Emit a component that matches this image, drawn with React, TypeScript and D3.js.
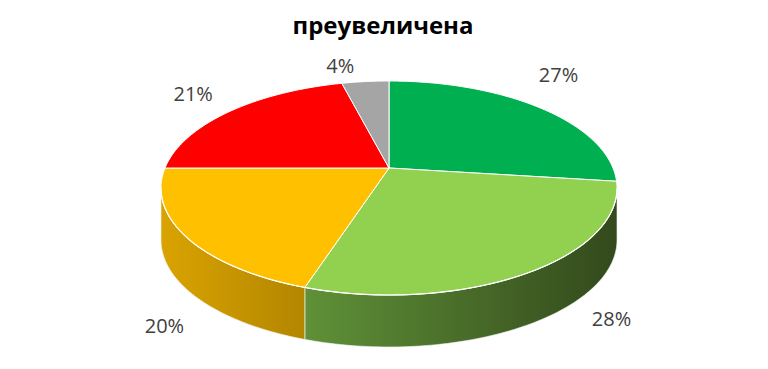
import React from "react";
import * as d3 from "d3";

const titleLine = "преувеличена";
const sliceValues = [27, 28, 20, 21, 4];
const sliceLabels = ["27%", "28%", "20%", "21%", "4%"];
const topColors = ["#00B050", "#92D050", "#FFC000", "#FF0000", "#A5A5A5"];
const sideColorsLight = ["#007A38", "#5F9137", "#D9A300", "#B00000", "#808080"];
const sideColorsDark = ["#005A28", "#33491C", "#B38600", "#800000", "#606060"];

const W = 768;
const H = 369;
// perspective projection of the pie's disk
const CX = 389;
const VY = 168;
const PA = 71.86;
const PC = -0.1869;
const PD = 224;
const THICK = 52;
const labelNudge: [number, number][] = [
  [20, -33],
  [80, -5],
  [-21, 37],
  [-37, -18],
  [-25, -16],
];

function proj(theta: number, r = 1, drop = 0): [number, number] {
  const u = r * Math.sin(theta);
  const v = -r * Math.cos(theta);
  const w = 1 + PC * v;
  return [CX + (PD * u) / w, (PA * v + VY) / w + drop];
}

function rimPoints(a: number, b: number, drop = 0, n = 80): [number, number][] {
  const pts: [number, number][] = [];
  const steps = Math.max(2, Math.ceil((Math.abs(b - a) / (2 * Math.PI)) * n * 4));
  for (let i = 0; i <= steps; i++) {
    pts.push(proj(a + ((b - a) * i) / steps, 1, drop));
  }
  return pts;
}

const toPath = (pts: [number, number][], close = true) =>
  "M" + pts.map((p) => p[0].toFixed(2) + "," + p[1].toFixed(2)).join("L") + (close ? "Z" : "");

export default function App() {
  const pie = d3
    .pie<number>()
    .sort(null)
    .startAngle(0)
    .endAngle(2 * Math.PI)
    .value((d) => d);
  const arcs = pie(sliceValues);

  const thR = Math.acos(PC);
  const thL = 2 * Math.PI - thR;

  const sides = arcs
    .map((a, i) => {
      const s = Math.max(a.startAngle, thR);
      const e = Math.min(a.endAngle, thL);
      if (e <= s) return null;
      const top = rimPoints(s, e, 0);
      const bot = rimPoints(e, s, THICK);
      const xs = top.map((p) => p[0]);
      return { i, d: toPath([...top, ...bot]), x0: d3.min(xs)!, x1: d3.max(xs)! };
    })
    .filter((x) => x !== null) as { i: number; d: string; x0: number; x1: number }[];

  const tops = arcs.map((a, i) => {
    const pts: [number, number][] = [[CX, VY], ...rimPoints(a.startAngle, a.endAngle, 0)];
    return { i, d: toPath(pts) };
  });

  const frontRim = toPath(rimPoints(thR, thL, 0), false);

  const labels = arcs.map((a, i) => {
    const mid = (a.startAngle + a.endAngle) / 2;
    const front = -Math.cos(mid) > 0;
    const [bx, by] = proj(mid, 1, front ? THICK : 0);
    return { x: bx + labelNudge[i][0], y: by + labelNudge[i][1], t: sliceLabels[i] };
  });

  return (
    <svg
      width={W}
      height={H}
      style={{ position: "absolute", left: 0, top: 0, display: "block", background: "#fff" }}
    >
      <defs>
        {sides.map((s) => (
          <linearGradient
            key={s.i}
            id={"sg" + s.i}
            gradientUnits="userSpaceOnUse"
            x1={s.x0}
            x2={s.x1}
            y1={0}
            y2={0}
          >
            <stop offset="0" stopColor={sideColorsLight[s.i]} />
            <stop offset="1" stopColor={sideColorsDark[s.i]} />
          </linearGradient>
        ))}
      </defs>
      <rect x={0} y={0} width={W} height={H} fill="#fff" />
      <text
        x={383}
        y={34}
        textAnchor="middle"
        fontFamily="'Open Sans', 'Noto Sans', sans-serif"
        fontWeight={700}
        fontSize={24}
        fill="#000"
      >
        {titleLine}
      </text>
      {sides.map((s) => (
        <path key={s.i} d={s.d} fill={`url(#sg${s.i})`} stroke="#f4f4f4" strokeWidth={0.8} strokeOpacity={0.8} />
      ))}
      {tops.map((t) => (
        <path key={t.i} d={t.d} fill={topColors[t.i]} stroke="#ffffff" strokeWidth={1} strokeLinejoin="round" />
      ))}
      <path d={frontRim} fill="none" stroke="#ffffff" strokeWidth={1.2} strokeOpacity={0.9} />
      {labels.map((l, i) => (
        <text
          key={i}
          x={l.x}
          y={l.y}
          textAnchor="middle"
          dominantBaseline="central"
          fontFamily="'Open Sans', 'Noto Sans', sans-serif"
          fontSize={20}
          fill="#404040"
        >
          {l.t}
        </text>
      ))}
    </svg>
  );
}
